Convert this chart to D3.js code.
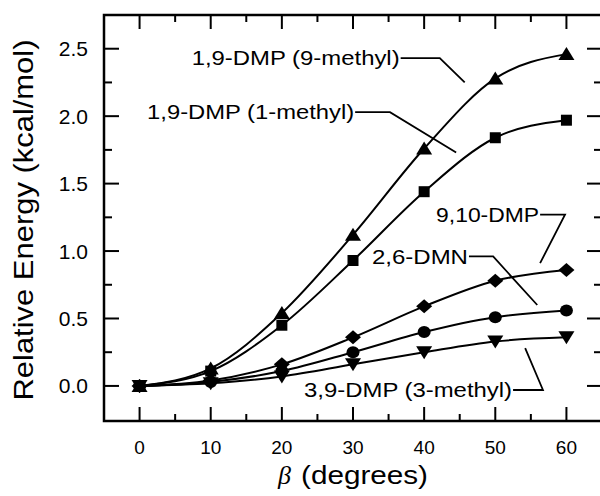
<!DOCTYPE html>
<html>
<head>
<meta charset="utf-8">
<script src="https://cdn.jsdelivr.net/npm/d3@7"></script>
<style>
  body { margin: 0; background: #fff; }
  svg { display: block; font-family: "Liberation Sans", Arial, sans-serif; }
</style>
</head>
<body>
<div id="chart"></div>
<script>
{
  // torsion angle beta (degrees) and relative energies (kcal/mol)
  const beta = [0, 10, 20, 30, 40, 50, 60];
  const dmp9Methyl = [0, 0.13, 0.54, 1.12, 1.76, 2.28, 2.46];
  const dmp1Methyl = [0, 0.11, 0.45, 0.93, 1.44, 1.84, 1.97];
  const dmp910 = [0, 0.04, 0.16, 0.36, 0.59, 0.78, 0.86];
  const dmn26 = [0, 0.03, 0.11, 0.25, 0.40, 0.51, 0.56];
  const dmp3Methyl = [0, 0.02, 0.07, 0.16, 0.25, 0.33, 0.36];

  const xTicks = [0, 10, 20, 30, 40, 50, 60];
  const yTicks = [0, 0.5, 1.0, 1.5, 2.0, 2.5];

  const width = 600;
  const height = 496;
  const margin = { top: 15, right: -2, bottom: 75, left: 104 };

  const svg = d3.select("#chart")
    .append("svg")
    .attr("width", width)
    .attr("height", height);

  const x = d3.scaleLinear()
    .domain([-5, 65])
    .range([margin.left, width - margin.right]);

  const y = d3.scaleLinear()
    .domain([-0.26, 2.75])
    .range([height - margin.bottom, margin.top]);

  const x0 = x.range()[0], x1 = x.range()[1];
  const y0 = y.range()[0], y1 = y.range()[1];

  // series with marker shape
  const series = [
    { name: "9-methyl", values: dmp9Methyl, shape: "triUp" },
    { name: "1-methyl", values: dmp1Methyl, shape: "square" },
    { name: "9,10", values: dmp910, shape: "diamond" },
    { name: "2,6", values: dmn26, shape: "circle" },
    { name: "3-methyl", values: dmp3Methyl, shape: "triDown" }
  ];

  const shapes = {
    triUp: "M0,-7L8,6L-8,6Z",
    triDown: "M0,7L8,-6L-8,-6Z",
    square: "M-5.5,-5.5H5.5V5.5H-5.5Z",
    diamond: "M0,-7L8,0L0,7L-8,0Z",
    circle: "M6.5,0A6.5,6,0,1,1,-6.5,0A6.5,6,0,1,1,6.5,0Z"
  };

  const line = d3.line()
    .x((d, i) => x(beta[i]))
    .y(d => y(d))
    .curve(d3.curveMonotoneX);

  const g = svg.append("g");

  g.selectAll("path.series")
    .data(series)
    .enter()
    .append("path")
    .attr("class", "series")
    .attr("d", d => line(d.values))
    .attr("fill", "none")
    .attr("stroke", "#000")
    .attr("stroke-width", 2);

  series.forEach(s => {
    g.selectAll(null)
      .data(s.values)
      .enter()
      .append("path")
      .attr("d", shapes[s.shape])
      .attr("transform", (d, i) => `translate(${x(beta[i])},${y(d)})`)
      .attr("fill", "#000");
  });

  // frame and inward ticks on all four sides
  const axes = svg.append("g")
    .attr("stroke", "#000")
    .attr("fill", "none");

  const xMinor = d3.range(5, 65, 10);
  const yMinor = d3.range(0.25, 2.5, 0.5);

  xTicks.forEach(t => {
    axes.append("line").attr("x1", x(t)).attr("x2", x(t)).attr("y1", y0).attr("y2", y0 - 14).attr("stroke-width", 2);
    axes.append("line").attr("x1", x(t)).attr("x2", x(t)).attr("y1", y1).attr("y2", y1 + 14).attr("stroke-width", 2);
  });
  xMinor.forEach(t => {
    axes.append("line").attr("x1", x(t)).attr("x2", x(t)).attr("y1", y0).attr("y2", y0 - 7).attr("stroke-width", 2);
    axes.append("line").attr("x1", x(t)).attr("x2", x(t)).attr("y1", y1).attr("y2", y1 + 7).attr("stroke-width", 2);
  });
  yTicks.forEach(t => {
    axes.append("line").attr("y1", y(t)).attr("y2", y(t)).attr("x1", x0).attr("x2", x0 + 15).attr("stroke-width", 2);
    axes.append("line").attr("y1", y(t)).attr("y2", y(t)).attr("x1", x1).attr("x2", x1 - 15).attr("stroke-width", 2);
  });
  yMinor.forEach(t => {
    axes.append("line").attr("y1", y(t)).attr("y2", y(t)).attr("x1", x0).attr("x2", x0 + 8).attr("stroke-width", 2);
    axes.append("line").attr("y1", y(t)).attr("y2", y(t)).attr("x1", x1).attr("x2", x1 - 8).attr("stroke-width", 2);
  });

  axes.append("rect")
    .attr("x", x0)
    .attr("y", y1)
    .attr("width", x1 - x0)
    .attr("height", y0 - y1)
    .attr("stroke-width", 2.5);

  // tick labels
  svg.append("g")
    .selectAll("text")
    .data(xTicks)
    .enter()
    .append("text")
    .attr("x", d => x(d))
    .attr("y", y0 + 33)
    .attr("text-anchor", "middle")
    .style("font-size", "19px")
    .text(d => d);

  svg.append("g")
    .selectAll("text")
    .data(yTicks)
    .enter()
    .append("text")
    .attr("x", x0 - 16)
    .attr("y", d => y(d))
    .attr("dy", "0.36em")
    .attr("text-anchor", "end")
    .style("font-size", "21px")
    .text(d3.format(".1f"));

  // axis titles
  svg.append("text")
    .attr("transform", `translate(33,${(y0 + y1) / 2 + 2}) rotate(-90)`)
    .attr("text-anchor", "middle")
    .attr("textLength", 361)
    .attr("lengthAdjust", "spacingAndGlyphs")
    .style("font-size", "28px")
    .text("Relative Energy (kcal/mol)");

  const xTitle = svg.append("text")
    .attr("x", 278)
    .attr("y", 484)
    .style("font-size", "26px");
  xTitle.append("tspan")
    .style("font-family", "'Liberation Serif', serif")
    .style("font-style", "italic")
    .text("\u03B2");
  xTitle.append("tspan")
    .attr("x", 301)
    .attr("textLength", 127)
    .attr("lengthAdjust", "spacingAndGlyphs")
    .text("(degrees)");

  // curve labels with leader lines: text end, elbow, tip (data units)
  const labels = ["1,9-DMP (9-methyl)", "1,9-DMP (1-methyl)", "9,10-DMP", "2,6-DMN", "3,9-DMP (3-methyl)"];
  const labelEnds = [[36.7, 2.43], [30.3, 2.03], [56.3, 1.27], [46.3, 0.96], [52.5, -0.03]];
  const labelElbows = [[42.2, 2.43], [35.2, 2.03], [59.8, 1.27], [49.7, 0.96], [56.7, -0.03]];
  const labelTips = [[45.7, 2.25], [44.5, 1.73], [56.3, 0.91], [55.9, 0.60], [54.2, 0.28]];
  const labelWidths = [208, 207, 103, 96, 208];

  labels.forEach((txt, i) => {
    const [ex, ey] = labelEnds[i];
    svg.append("text")
      .attr("x", x(ex) - 1)
      .attr("y", y(ey))
      .attr("dy", "0.36em")
      .attr("text-anchor", "end")
      .attr("textLength", labelWidths[i])
      .attr("lengthAdjust", "spacingAndGlyphs")
      .style("font-size", "20px")
      .text(txt);

    svg.append("path")
      .attr("d", d3.line()([
        [x(ex), y(ey)],
        [x(labelElbows[i][0]), y(labelElbows[i][1])],
        [x(labelTips[i][0]), y(labelTips[i][1])]
      ]))
      .attr("fill", "none")
      .attr("stroke", "#000")
      .attr("stroke-width", 1.8);
  });
}
</script>
</body>
</html>
